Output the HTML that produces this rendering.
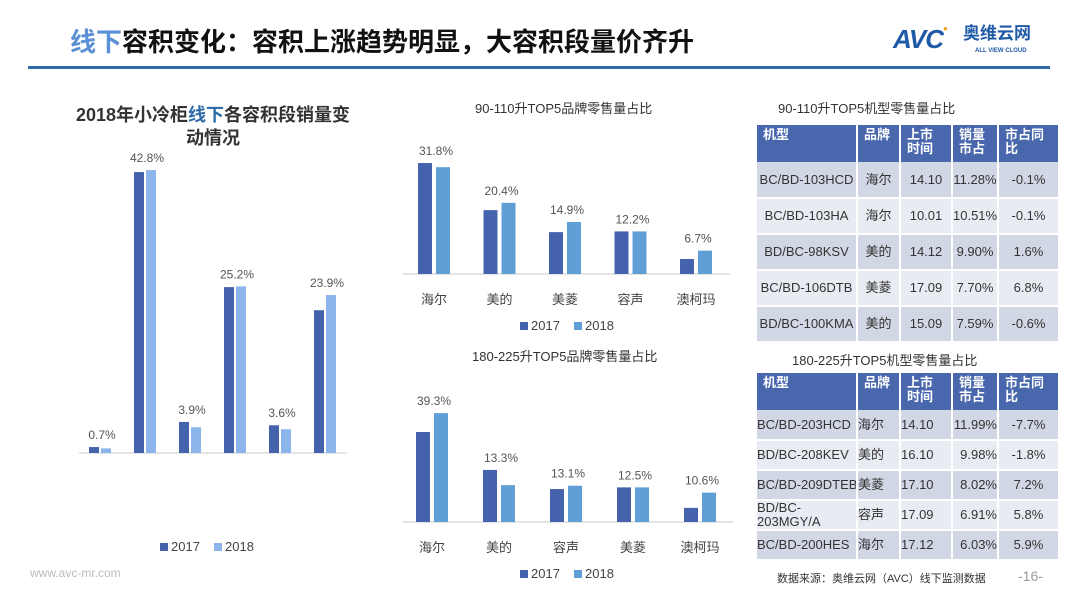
<!DOCTYPE html>
<html><head><meta charset="utf-8">
<style>
body{margin:0;width:1080px;height:608px;overflow:hidden;background:#fff;font-family:"Liberation Sans","Noto Sans CJK SC",sans-serif;}
#root{position:relative;width:1080px;height:608px;}
.abs{position:absolute;}
table{border-collapse:collapse;table-layout:fixed;}
td{font-size:13px;color:#333;text-align:center;border-right:2px solid #fff;border-bottom:2px solid #fff;padding:0;line-height:14px;white-space:nowrap;overflow:hidden;}
th{background:#4867ad;color:#fff;font-size:13px;font-weight:bold;text-align:left;vertical-align:top;border-right:2px solid #fff;padding:3px 4px 0 6px;line-height:14px;}
tr.a td{background:#d2d7e5;}
tr.b td{background:#e8ebf2;}
</style></head><body>
<div id="root">
<div class="abs" style="left:70px;top:22px;font-size:26px;font-weight:bold;color:#111;white-space:nowrap;"><span style="color:#5b8fd6">线下</span>容积变化：容积上涨趋势明显，大容积段量价齐升</div>
<div class="abs" style="left:28px;top:66px;width:1022px;height:3px;background:#2e6aa6"></div>
<div class="abs" style="left:893px;top:24px;width:160px;height:36px;">
 <span style="position:absolute;left:0;top:0;font-size:26px;font-weight:bold;color:#1f5aa6;font-style:italic;letter-spacing:-1px">AVC</span>
 <span style="position:absolute;left:50px;top:0;color:#f0a020;font-size:8px">●</span>
 <span style="position:absolute;left:70px;top:0px;font-size:17px;font-weight:bold;color:#1f5aa6;line-height:20px">奥维云网</span>
 <span style="position:absolute;left:82px;top:24px;font-size:6px;color:#1f5aa6;font-weight:bold;white-space:nowrap;line-height:7px">ALL VIEW CLOUD</span>
</div>
<div class="abs" style="left:48px;top:104px;width:330px;font-size:18px;font-weight:bold;color:#333;line-height:23px;text-align:center">2018年小冷柜<span style="color:#2e6aa6">线下</span>各容积段销量变<br>动情况</div>
<div class="abs" style="left:475px;top:98px;font-size:13px;color:#333">90-110升TOP5品牌零售量占比</div>
<div class="abs" style="left:472px;top:346px;font-size:13px;color:#333">180-225升TOP5品牌零售量占比</div>
<div class="abs" style="left:778px;top:98px;font-size:13px;color:#333">90-110升TOP5机型零售量占比</div>
<div class="abs" style="left:792px;top:350px;font-size:13px;color:#333">180-225升TOP5机型零售量占比</div>
<svg class="abs" style="left:0;top:0" width="1080" height="608" id="chart"></svg>

<table class="abs" style="left:757px;top:125px;width:302px">
<colgroup><col style="width:100px"><col style="width:43px"><col style="width:52px"><col style="width:46px"><col style="width:61px"></colgroup>
<tr style="height:37px"><th>机型</th><th>品牌</th><th>上市<br>时间</th><th>销量<br>市占</th><th>市占同<br>比</th></tr>
<tr class="a" style="height:36px"><td>BC/BD-103HCD</td><td>海尔</td><td>14.10</td><td>11.28%</td><td>-0.1%</td></tr>
<tr class="b" style="height:36px"><td>BC/BD-103HA</td><td>海尔</td><td>10.01</td><td>10.51%</td><td>-0.1%</td></tr>
<tr class="a" style="height:36px"><td>BD/BC-98KSV</td><td>美的</td><td>14.12</td><td>9.90%</td><td>1.6%</td></tr>
<tr class="b" style="height:36px"><td>BC/BD-106DTB</td><td>美菱</td><td>17.09</td><td>7.70%</td><td>6.8%</td></tr>
<tr class="a" style="height:36px"><td>BD/BC-100KMA</td><td>美的</td><td>15.09</td><td>7.59%</td><td>-0.6%</td></tr>
</table>
<table class="abs" style="left:757px;top:373px;width:302px">
<colgroup><col style="width:100px"><col style="width:43px"><col style="width:52px"><col style="width:46px"><col style="width:61px"></colgroup>
<tr style="height:37px"><th>机型</th><th>品牌</th><th>上市<br>时间</th><th>销量<br>市占</th><th>市占同<br>比</th></tr>
<tr class="a" style="height:30px"><td style="text-align:left">BC/BD-203HCD</td><td style="text-align:left">海尔</td><td style="text-align:left">14.10</td><td style="text-align:right">11.99%</td><td>-7.7%</td></tr>
<tr class="b" style="height:30px"><td style="text-align:left">BD/BC-208KEV</td><td style="text-align:left">美的</td><td style="text-align:left">16.10</td><td style="text-align:right">9.98%</td><td>-1.8%</td></tr>
<tr class="a" style="height:30px"><td style="text-align:left">BC/BD-209DTEB</td><td style="text-align:left">美菱</td><td style="text-align:left">17.10</td><td style="text-align:right">8.02%</td><td>7.2%</td></tr>
<tr class="b" style="height:30px"><td style="text-align:left">BD/BC-<br>203MGY/A</td><td style="text-align:left">容声</td><td style="text-align:left">17.09</td><td style="text-align:right">6.91%</td><td>5.8%</td></tr>
<tr class="a" style="height:30px"><td style="text-align:left">BC/BD-200HES</td><td style="text-align:left">海尔</td><td style="text-align:left">17.12</td><td style="text-align:right">6.03%</td><td>5.9%</td></tr>
</table>
<div class="abs" style="left:777px;top:570px;font-size:11px;color:#333">数据来源：奥维云网（AVC）线下监测数据</div>
<div class="abs" style="left:1018px;top:568px;font-size:14px;color:#999">-16-</div>
<div class="abs" style="left:30px;top:566px;font-size:12px;color:#bbb">www.avc-mr.com</div>
</div>
<script>
// Left chart data
const leftCats = ['s1','s2','s3','s4','s5','s6'];
const left2017 = [0.9, 42.5, 4.7, 25.1, 4.2, 21.6];
const left2018 = [0.7, 42.8, 3.9, 25.2, 3.6, 23.9];
const leftLabels = ['0.7%','42.8%','3.9%','25.2%','3.6%','23.9%'];
// Mid top chart
const topCats = ['海尔','美的','美菱','容声','澳柯玛'];
const top2017 = [31.8, 18.3, 12.0, 12.2, 4.3];
const top2018 = [30.6, 20.4, 14.9, 12.2, 6.7];
const topLabels = ['31.8%','20.4%','14.9%','12.2%','6.7%'];
// Mid bottom chart
const botCats = ['海尔','美的','容声','美菱','澳柯玛'];
const bot2017 = [32.5, 18.8, 11.9, 12.5, 5.1];
const bot2018 = [39.3, 13.3, 13.1, 12.5, 10.6];
const botLabels = ['39.3%','13.3%','13.1%','12.5%','10.6%'];

const svg = document.getElementById('chart');
const NS = 'http://www.w3.org/2000/svg';
function mk(tag, attrs){const e=document.createElementNS(NS,tag);for(const k in attrs)e.setAttribute(k,attrs[k]);svg.appendChild(e);return e;}

function drawChart(o){
  const {cats,s1,s2,labels,x0,step,base,scale,bw,gap,c1,c2,name,catLabels,lx,ly} = o;
  const y = v => base - v*scale;
  const ax = mk('line',{x1:o.axisL,x2:o.axisR,y1:base,y2:base,stroke:'#c8c8c8','stroke-width':1});
  
  
  cats.forEach((c,i)=>{
    const cx = x0 + i*step;
    const r1 = mk('rect',{x:cx-gap/2-bw,y:y(s1[i]),width:bw,height:s1[i]*scale,fill:c1});
    
    
    const r2 = mk('rect',{x:cx+gap/2,y:y(s2[i]),width:bw,height:s2[i]*scale,fill:c2});
    
    
    const top = Math.min(y(s1[i]), y(s2[i]));
    const t = mk('text',{x:cx+2,y:top-8,'text-anchor':'middle','font-size':12,fill:'#555','font-family':'Liberation Sans, sans-serif'});
    t.textContent = labels[i];
    
    
    if(catLabels){
      const ct = mk('text',{x:cx,y:base+30,'text-anchor':'middle','font-size':13,fill:'#444','font-family':'Liberation Sans, Noto Sans CJK SC, sans-serif'});
      ct.textContent = c;
      
      
    }
  });
  const lr1 = mk('rect',{x:lx,y:ly-8,width:8,height:8,fill:c1});
  
  
  const lt1 = mk('text',{x:lx+11,y:ly,'font-size':13,fill:'#444','font-family':'Liberation Sans, sans-serif'}); lt1.textContent='2017';
  
  
  const lr2 = mk('rect',{x:lx+54,y:ly-8,width:8,height:8,fill:c2});
  
  
  const lt2 = mk('text',{x:lx+65,y:ly,'font-size':13,fill:'#444','font-family':'Liberation Sans, sans-serif'}); lt2.textContent='2018';
  
  
}
drawChart({cats:leftCats,s1:left2017,s2:left2018,labels:leftLabels,x0:100,step:45,base:453,scale:6.61,bw:10,gap:2,c1:'#4563ac',c2:'#8cb5ec',name:'left-chart',catLabels:false,lx:160,ly:551,axisL:79,axisR:347});
drawChart({cats:topCats,s1:top2017,s2:top2018,labels:topLabels,x0:434,step:65.5,base:274,scale:3.49,bw:14,gap:4,c1:'#4563ac',c2:'#5f9fd6',name:'top-chart',catLabels:true,lx:520,ly:330,axisL:403,axisR:730});
drawChart({cats:botCats,s1:bot2017,s2:bot2018,labels:botLabels,x0:432,step:67,base:522,scale:2.77,bw:14,gap:4,c1:'#4563ac',c2:'#5f9fd6',name:'bottom-chart',catLabels:true,lx:520,ly:578,axisL:403,axisR:733});
</script>
</body></html>
